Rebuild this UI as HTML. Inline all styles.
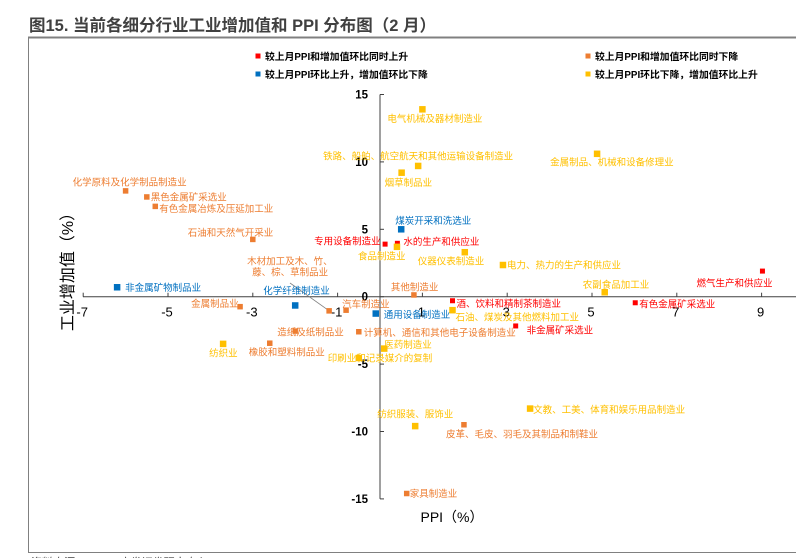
<!DOCTYPE html>
<html><head><meta charset="utf-8">
<style>
html,body{margin:0;padding:0;background:#fff;width:796px;height:558px;overflow:hidden;}
svg text{font-family:"Liberation Sans","Noto Sans CJK SC",sans-serif;}
</style></head>
<body>
<svg id="chart" width="796" height="558" viewBox="0 0 796 558" xmlns="http://www.w3.org/2000/svg">
<text x="29" y="31" font-size="16.5" font-weight="bold" fill="#404040">图15. 当前各细分行业工业增加值和 PPI 分布图（2 月）</text>
<line x1="28" y1="37.5" x2="796" y2="37.5" stroke="#808080" stroke-width="2"/>
<line x1="28.5" y1="37" x2="28.5" y2="552" stroke="#808080" stroke-width="1"/>
<line x1="28" y1="552.5" x2="796" y2="552.5" stroke="#808080" stroke-width="1"/>
<text x="29" y="566" font-size="11" font-style="italic" fill="#404040">资料来源：wind，广发证券研究中心</text>
<g id="legend"></g>
<g id="axes"></g>
<g id="marks"></g>
<text x="0" y="0" font-size="16" fill="#000" transform="translate(73,268) rotate(-90)" text-anchor="middle">工业增加值（%）</text>
<text x="452" y="522" font-size="14" fill="#000" text-anchor="middle">PPI（%）</text>
</svg>
<script>
const names = ["专用设备制造业","水的生产和供应业","酒、饮料和精制茶制造业","有色金属矿采选业","燃气生产和供应业","非金属矿采选业",
"煤炭开采和洗选业","非金属矿物制品业","化学纤维制造业","通用设备制造业",
"化学原料及化学制品制造业","黑色金属矿采选业","有色金属冶炼及压延加工业","石油和天然气开采业","其他制造业","金属制品业","汽车制造业","木材加工及木、竹、|藤、棕、草制品业","造纸及纸制品业","橡胶和塑料制品业","计算机、通信和其他电子设备制造业","皮革、毛皮、羽毛及其制品和制鞋业","家具制造业",
"电气机械及器材制造业","铁路、船舶、航空航天和其他运输设备制造业","烟草制品业","金属制品、机械和设备修理业","食品制造业","仪器仪表制造业","电力、热力的生产和供应业","农副食品加工业","石油、煤炭及其他燃料加工业","医药制造业","纺织业","印刷业和记录媒介的复制","纺织服装、服饰业","文教、工美、体育和娱乐用品制造业"];
const ppi = [0.12,0.41,1.71,6.02,9.02,3.2, 0.5,-6.2,-2.0,-0.1, -6.0,-5.5,-5.3,-3.0,0.8,-3.3,-0.8,-1.2,-2.0,-2.6,-0.5,1.98,0.63, 1.0,0.9,0.51,5.12,0.4,2.0,2.9,5.3,1.71,0.1,-3.7,-0.5,0.83,3.54];
const iva = [3.9,3.96,-0.3,-0.45,1.9,-2.17, 5.0,0.7,-0.65,-1.25, 7.85,7.4,6.7,4.25,0.13,-0.74,-1.0,-1.05,-2.55,-3.45,-2.6,-9.5,-14.6, 13.9,9.7,9.2,10.6,3.7,3.3,2.35,0.33,-1.0,-3.85,-3.5,-4.55,-9.6,-8.3];
const groups = [0,0,0,0,0,0, 1,1,1,1, 2,2,2,2,2,2,2,2,2,2,2,2,2, 3,3,3,3,3,3,3,3,3,3,3,3,3,3];
const xTicks = [-7,-5,-3,-1,1,3,5,7,9];
const yTicks = [15,10,5,0,-5,-10,-15];
const legendLabels = ["较上月PPI和增加值环比同时上升","较上月PPI环比上升，增加值环比下降","较上月PPI和增加值环比同时下降","较上月PPI环比下降，增加值环比上升"];

const colors = ["#FF0000","#0070C0","#ED7D31","#FFC000"];
const msize = [5,6.5,5.5,6.5];
const labelOff = [[-71,-3],[6,-2],[4,3],[4,1],[-66,12],[11,4],
[-6,-9],[8,0],[-32,-15],[8,1],
[-53,-9],[4,0],[4,2],[-65,-7],[-23,-8],[-49,-3],[-4,-6],[-82,-50],[-18,1],[-21,9],[5,1],[-18,9],[3,0],
[-35,9],[-95,-10],[-17,10],[-47,8],[-39,9],[-47,9],[4,0],[-22,-8],[3,7],[0,-4],[-14,9],[-31,0],[-38,-12],[3,1]];

const X0=380, XU=42.4, Y0=296.7, YU=13.48;
const sx = v => X0 + v*XU;
const sy = v => Y0 - v*YU;
const NS="http://www.w3.org/2000/svg";
function mk(tag, attrs, parent){const e=document.createElementNS(NS,tag);for(const k in attrs)e.setAttribute(k,attrs[k]);parent.appendChild(e);return e;}

const axes=document.getElementById('axes');
let xl=mk('line',{x1:83,y1:Y0,x2:796,y2:Y0,stroke:'#404040','stroke-width':1},axes);


let yl=mk('line',{x1:sx(0),y1:sy(15),x2:sx(0),y2:sy(-15),stroke:'#404040','stroke-width':1},axes);


xTicks.forEach(t=>{
  const tk=mk('line',{x1:sx(t),y1:Y0,x2:sx(t),y2:Y0-4,stroke:'#404040'},axes);
  
  
  const tl=mk('text',{x:sx(t)-1,y:Y0+20,'font-size':13,'text-anchor':'middle',fill:'#000'},axes);
  tl.textContent=String(t);
  
  
});
yTicks.forEach(t=>{
  const tk=mk('line',{x1:sx(0),y1:sy(t),x2:sx(0)+4,y2:sy(t),stroke:'#404040'},axes);
  
  
  const tl=mk('text',{x:sx(0)-12,y:sy(t)+4,'font-size':11.5,'font-weight':'bold','text-anchor':'end',fill:'#000'},axes);
  tl.textContent=String(t);
  
  
});

const lg=document.getElementById('legend');
const lpos=[[258,56],[258,74],[588,56],[588,74]];
legendLabels.forEach((s,i)=>{
  const r=mk('rect',{x:lpos[i][0]-2.5,y:lpos[i][1]-2.5,width:5,height:5,fill:colors[i]},lg);
  
  
  const t=mk('text',{x:lpos[i][0]+7,y:lpos[i][1]+4,'font-size':9.8,'font-weight':'bold',fill:'#000'},lg);
  t.textContent=s;
  
  
});

const marks=document.getElementById('marks');
let ld=mk('line',{x1:290,y1:283,x2:sx(ppi[17]),y2:sy(iva[17]),stroke:'#808080','stroke-width':0.8},marks);


names.forEach((n,i)=>{
  const g=groups[i], s=msize[g], cx=sx(ppi[i]), cy=sy(iva[i]);
  const r=mk('rect',{x:cx-s/2,y:cy-s/2,width:s,height:s,fill:colors[g]},marks);
  
  
  const parts=n.split('|');
  parts.forEach((p,k)=>{
    const dx=labelOff[i][0]+(k?5:0), dy=labelOff[i][1]+k*11.3;
    const t=mk('text',{x:cx+dx,y:cy+dy+3.5,'font-size':9.5,fill:colors[g]},marks);
    t.textContent=p;
    
    
  });
});
</script>
</body></html>
